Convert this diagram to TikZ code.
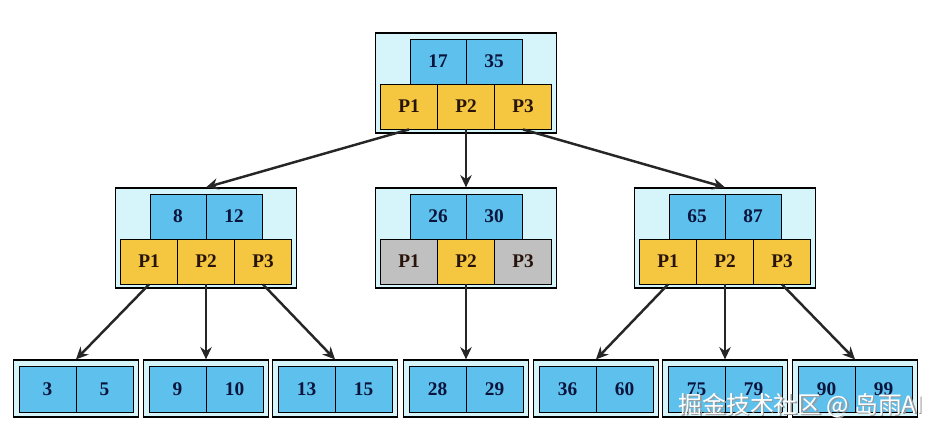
\documentclass[tikz,border=0pt]{standalone}
\usepackage{fontspec}
\setmainfont{Liberation Serif}
\newfontfamily\cjkfont{Noto Sans CJK SC}
\usetikzlibrary{arrows.meta,positioning,calc}
\definecolor{NodeBg}{RGB}{214,245,250}
\definecolor{KeyBlue}{RGB}{94,192,236}
\definecolor{PtrYellow}{RGB}{245,199,64}
\definecolor{PtrGray}{RGB}{192,192,192}
\definecolor{KeyText}{RGB}{10,20,60}
\definecolor{PtrText}{RGB}{40,20,10}
\tikzset{
  tnode/.style={draw=black,fill=NodeBg,line width=0.7pt,
                minimum width=3.62cm,minimum height=2cm,inner sep=0pt},
  lnode/.style={draw=black,fill=NodeBg,line width=0.7pt,
                minimum width=2.5cm,minimum height=1.14cm,inner sep=0pt},
  kbox/.style={draw=black,fill=KeyBlue,line width=0.5pt,
               minimum width=1.12cm,minimum height=0.9cm,inner sep=0pt,
               font=\fontsize{11}{13}\selectfont\bfseries,text=KeyText},
  lbox/.style={kbox,minimum width=1.14cm,minimum height=0.92cm},
  pbox/.style={draw=black,fill=PtrYellow,line width=0.5pt,
               minimum width=1.14cm,minimum height=0.9cm,inner sep=0pt,
               font=\fontsize{11}{13}\selectfont\bfseries,text=PtrText},
  gbox/.style={pbox,fill=PtrGray},
  arr/.style={-{Stealth[length=7pt,width=6.5pt]},line width=1.4pt,black!85},
}
\begin{document}
\begin{tikzpicture}[x=0.02cm,y=-0.02cm]
  \useasboundingbox (0,0) rectangle (948,436);
  % Root node
  \node[tnode] (root) at (466,83) {};
  \node[kbox] (rk1) at (438,61.5) {17};
  \node[kbox] (rk2) at (494,61.5) {35};
  \node[pbox] (rp1) at (409,106.5) {P1};
  \node[pbox] (rp2) at (466,106.5) {P2};
  \node[pbox] (rp3) at (523,106.5) {P3};

  % Second level
  \node[tnode] (na) at (206,238) {};
  \node[kbox] (nak1) at (178,216.5) {8};
  \node[kbox] (nak2) at (234,216.5) {12};
  \node[pbox] (nap1) at (149,261.5) {P1};
  \node[pbox] (nap2) at (206,261.5) {P2};
  \node[pbox] (nap3) at (263,261.5) {P3};

  \node[tnode] (nb) at (466,238) {};
  \node[kbox] (nbk1) at (438,216.5) {26};
  \node[kbox] (nbk2) at (494,216.5) {30};
  \node[gbox] (nbp1) at (409,261.5) {P1};
  \node[pbox] (nbp2) at (466,261.5) {P2};
  \node[gbox] (nbp3) at (523,261.5) {P3};

  \node[tnode] (nc) at (725,238) {};
  \node[kbox] (nck1) at (697,216.5) {65};
  \node[kbox] (nck2) at (753,216.5) {87};
  \node[pbox] (ncp1) at (668,261.5) {P1};
  \node[pbox] (ncp2) at (725,261.5) {P2};
  \node[pbox] (ncp3) at (782,261.5) {P3};

  % Leaves
  \foreach \x/\a/\b [count=\i] in {76/3/5, 206/9/10, 335/13/15, 466/28/29,
                                   596/36/60, 725/75/79, 855/90/99}{
    \node[lnode] (leaf\i) at (\x,388.5) {};
    \node[lbox] (leaf\i a) at (\x-28.5,389) {\a};
    \node[lbox] (leaf\i b) at (\x+28.5,389) {\b};
  }

  % Pointers
  \draw[arr] (rp1.south) -- (na.north);
  \draw[arr] (rp2.south) -- (nb.north);
  \draw[arr] (rp3.south) -- (nc.north);
  \draw[arr] (nap1.south) -- (leaf1.north);
  \draw[arr] (nap2.south) -- (leaf2.north);
  \draw[arr] (nap3.south) -- (leaf3.north);
  \draw[arr] (nbp2.south) -- (leaf4.north);
  \draw[arr] (ncp1.south) -- (leaf5.north);
  \draw[arr] (ncp2.south) -- (leaf6.north);
  \draw[arr] (ncp3.south) -- (leaf7.north);

  % Watermark
  \node[font=\cjkfont\fontsize{13.5}{15}\selectfont,text=gray!80] (wms) at (802.5,406.5) {掘金技术社区 @ 岛雨AI};
  \node[font=\cjkfont\fontsize{13.5}{15}\selectfont,text=white] (wm) at (801,405) {掘金技术社区 @ 岛雨AI};
\end{tikzpicture}
\end{document}
